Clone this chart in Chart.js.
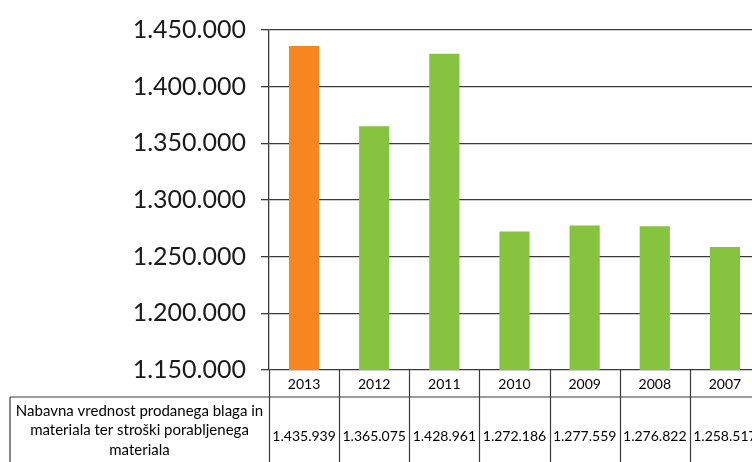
<!DOCTYPE html>
<html>
<head>
<meta charset="utf-8">
<script src="https://cdn.jsdelivr.net/npm/chart.js@4"></script>
<style>
  html, body { margin: 0; padding: 0; background: #fff; overflow: hidden; }
  #wrap { position: relative; width: 760px; height: 462px; }
</style>
</head>
<body>
<div id="wrap"><canvas id="chart_costs"></canvas></div>
<script>
const years = ['2013', '2012', '2011', '2010', '2009', '2008', '2007'];
const costs = [1435939, 1365075, 1428961, 1272186, 1277559, 1276822, 1258517];
const rowLabel = ['Nabavna vrednost prodanega blaga in', 'materiala ter stroški porabljenega', 'materiala'];
const yTicks = [1150000, 1200000, 1250000, 1300000, 1350000, 1400000, 1450000];

const ORANGE = '#f7861f';
const GREEN = '#86c440';
const LINE = '#3a3a3a';
const FONT = 'Lato, "Open Sans", sans-serif';

// dots as thousands separator
const fmt = (v) => String(Math.round(v)).replace(/\B(?=(\d{3})+(?!\d))/g, '.');

// data table under the x axis: borders, row label and values
const tablePlugin = {
    id: 'dataTable',
    afterDraw(chart) {
        const ctx = chart.ctx;
        const x = chart.scales.x;
        const area = chart.chartArea;
        const half = (x.getPixelForValue(1) - x.getPixelForValue(0)) / 2;
        const headBottom = x.bottom;
        const bottom = chart.height;
        ctx.save();
        ctx.strokeStyle = LINE;
        ctx.lineWidth = 1.2;
        ctx.beginPath();
        ctx.moveTo(10, headBottom);
        ctx.lineTo(chart.width, headBottom);
        ctx.moveTo(10, headBottom);
        ctx.lineTo(10, bottom);
        for (let i = 0; i <= years.length; i++) {
            const px = Math.round(x.getPixelForValue(0) - half + i * half * 2) + 0.5;
            ctx.moveTo(px, area.bottom);
            ctx.lineTo(px, bottom);
        }
        ctx.stroke();

        ctx.fillStyle = '#000';
        ctx.textAlign = 'center';
        ctx.textBaseline = 'middle';
        ctx.font = '15px ' + FONT;
        const labelX = (10 + area.left) / 2;
        rowLabel.forEach((line, i) => {
            ctx.fillText(line, labelX, headBottom + 14 + i * 19.5);
        });
        ctx.font = '14px ' + FONT;
        costs.forEach((v, i) => {
            ctx.fillText(fmt(v), x.getPixelForValue(i), headBottom + 39);
        });
        ctx.restore();
    }
};

const canvas = document.getElementById('chart_costs');
const chart = new Chart(canvas, {
    type: 'bar',
    data: {
        labels: years,
        datasets: [{
            data: costs,
            backgroundColor: costs.map((v, i) => (i === 0 ? ORANGE : GREEN)),
            borderWidth: 0,
            barPercentage: 0.43,
            categoryPercentage: 1,
        }]
    },
    options: {
        responsive: true,
        maintainAspectRatio: false,
        animation: false,
        layout: { padding: { top: 28, bottom: 65, left: 0, right: 0 } },
        plugins: {
            legend: { display: false },
            tooltip: { enabled: false },
        },
        scales: {
            y: {
                min: yTicks[0],
                max: yTicks[yTicks.length - 1],
                afterBuildTicks: (scale) => { scale.ticks = yTicks.map((v) => ({ value: v })); },
                afterFit: (scale) => { scale.width = 269; },
                border: { display: true, color: LINE, width: 1.3 },
                grid: { color: LINE, lineWidth: 1.3, drawTicks: true, tickLength: 8 },
                ticks: {
                    color: '#1a1a1a',
                    padding: 15,
                    font: { family: FONT, size: 25 },
                    callback: (v) => fmt(v),
                },
            },
            x: {
                afterFit: (scale) => { scale.height = 27; },
                border: { display: false },
                grid: { display: false, drawTicks: false },
                ticks: {
                    color: '#000',
                    padding: 6,
                    font: { family: FONT, size: 14 },
                },
            },
        },
    },
    plugins: [tablePlugin],
});
</script>
</body>
</html>
